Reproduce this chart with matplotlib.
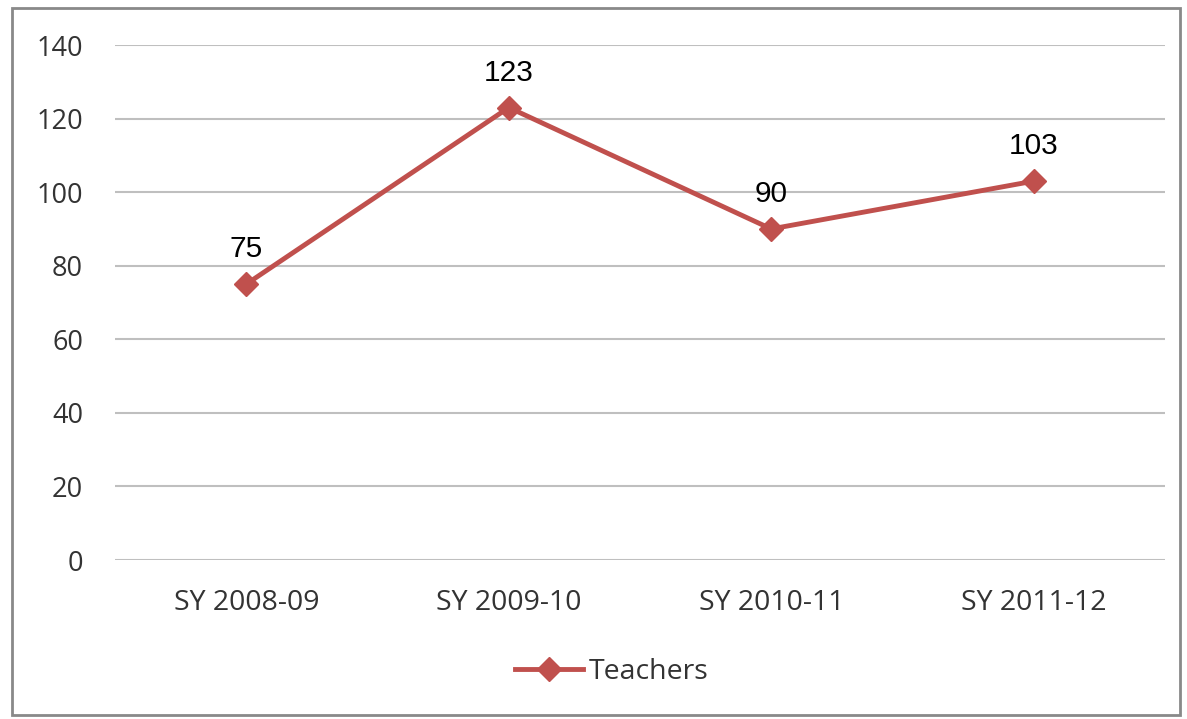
import matplotlib.pyplot as plt
from matplotlib.patches import Rectangle

# data
years = ['SY 2008-09', 'SY 2009-10', 'SY 2010-11', 'SY 2011-12']
teachers = [75, 123, 90, 103]
y_ticks = [0, 20, 40, 60, 80, 100, 120, 140]

red = '#C0504D'
grid_col = '#BFBFBF'
txt_col = '#333333'

fig = plt.figure(figsize=(11.87, 7.19), dpi=100)
ax = fig.add_axes([0.0969, 0.2211, 0.8846, 0.7163])

x = range(len(years))
line, = ax.plot(x, teachers, color=red, linewidth=3.5, marker='D', markersize=12,
                markerfacecolor=red, markeredgecolor=red, label='Teachers', zorder=3)

for i, v in enumerate(teachers):
    ax.text(i, v + 9.5, str(v), ha='center', va='center', fontsize=21.5,
            family='Liberation Sans', color='black')

ax.set_xlim(-0.5, len(years) - 0.5)
ax.set_ylim(0, 140)
ax.set_yticks(y_ticks)
ax.set_xticks(list(x))
ax.set_xticklabels(years)
ax.yaxis.grid(True, color=grid_col, linewidth=1.5)
ax.set_axisbelow(True)
for s in ax.spines.values():
    s.set_visible(False)
ax.tick_params(length=0, labelsize=19.5, labelcolor=txt_col)
ax.tick_params(axis='x', pad=21, labelsize=20.5)
ax.tick_params(axis='y', pad=23)
for lbl in ax.get_xticklabels() + ax.get_yticklabels():
    lbl.set_family('Open Sans')

leg = fig.legend(handles=[line], loc='center', bbox_to_anchor=(612 / 1187, 1 - 672 / 719),
                 frameon=False, handlelength=2.4, handletextpad=0.2,
                 prop={'family': 'Open Sans', 'size': 20.5})
for t in leg.get_texts():
    t.set_color(txt_col)

# outer chart border
fig.patches.append(Rectangle((12 / 1187, 1 - 715 / 719), 1168 / 1187, 707 / 719,
                             transform=fig.transFigure, fill=False,
                             edgecolor='#898989', linewidth=2))

fig.savefig('out.png', dpi=100)
